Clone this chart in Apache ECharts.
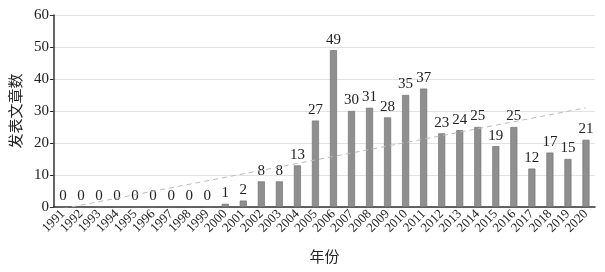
<!DOCTYPE html>
<html><head><meta charset="utf-8">
<script src="https://cdn.jsdelivr.net/npm/echarts@6/dist/echarts.min.js"></script>
<style>html,body{margin:0;padding:0;background:#fff}#c{width:605px;height:272px}</style>
</head><body><div id="c"></div>
<script>
const years = ['1991','1992','1993','1994','1995','1996','1997','1998','1999','2000','2001','2002','2003','2004','2005','2006','2007','2008','2009','2010','2011','2012','2013','2014','2015','2016','2017','2018','2019','2020'];
const counts = [0,0,0,0,0,0,0,0,0,1,2,8,8,13,27,49,30,31,28,35,37,23,24,25,19,25,12,17,15,21];
const trendYears = ['1991','2020'];
const trendValues = [-0.5, 31];
const yTicks = [0,10,20,30,40,50,60];

const trendData = years.map(y => { const i = trendYears.indexOf(y); return i >= 0 ? trendValues[i] : null; });
const serif = '"Liberation Serif","DejaVu Serif",serif';
const chart = echarts.init(document.getElementById('c'));
chart.setOption({
  animation: false,
  grid: {left: 45, right: 10, top: 15, bottom: 65},
  xAxis: {
    type: 'category', data: years,
    name: '年份', nameLocation: 'middle', nameGap: 42,
    nameTextStyle: {fontFamily: '"Noto Sans CJK SC"', fontSize: 15, color: '#222'},
    axisLine: {lineStyle: {color: '#333', width: 1.5}},
    axisTick: {inside: true, length: 4, lineStyle: {color: '#333'}},
    axisLabel: {rotate: 45, interval: 0, fontFamily: serif, fontSize: 13, color: '#222', margin: 5}
  },
  yAxis: {
    type: 'value', min: yTicks[0], max: yTicks[yTicks.length-1], interval: 10,
    name: '发表文章数', nameLocation: 'middle', nameGap: 30, nameRotate: 90,
    nameTextStyle: {fontFamily: '"Noto Sans CJK SC"', fontSize: 15, color: '#222'},
    axisLine: {show: true, lineStyle: {color: '#333', width: 1.5}},
    axisTick: {show: true, length: 4, lineStyle: {color: '#333'}},
    axisLabel: {fontFamily: serif, fontSize: 15, color: '#222', margin: 5},
    splitLine: {lineStyle: {color: '#e2e2e2'}}
  },
  series: [
    {type: 'bar', data: counts, barWidth: 7,
     itemStyle: {color: '#8f8f8f', borderColor: '#6a6a6a', borderWidth: 0.6},
     label: {show: true, position: 'top', fontFamily: serif, fontSize: 15, color: '#222', distance: 3}},
    {type: 'line', data: trendData, connectNulls: true, symbol: 'none',
     lineStyle: {color: '#bbb', type: [5, 4], width: 1}, z: 5}
  ]
});
</script></body></html>
